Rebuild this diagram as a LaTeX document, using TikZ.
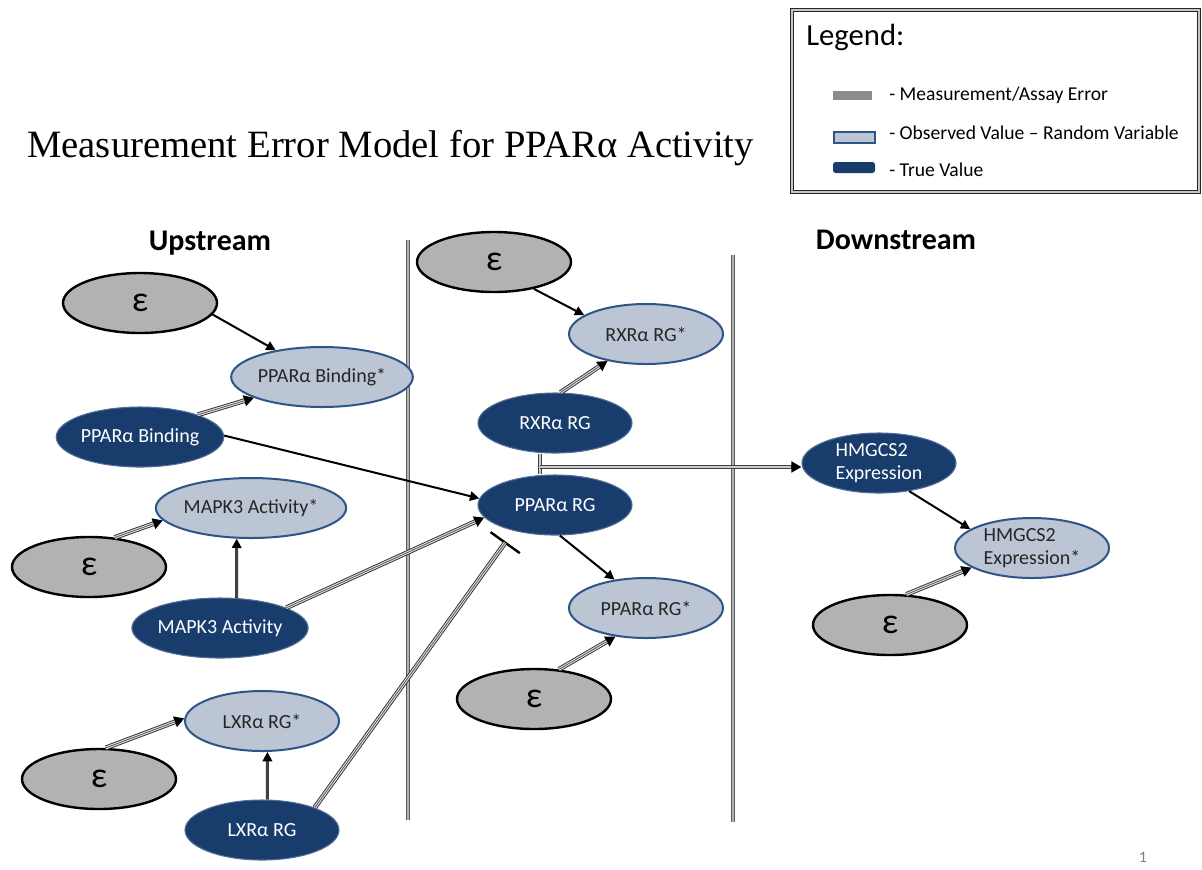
\documentclass[tikz,border=0pt]{standalone}
\usepackage{fontspec}
\setmainfont{Carlito}
\newfontfamily\titlefont{Liberation Serif}
\usetikzlibrary{arrows.meta,shapes.geometric}
\definecolor{truefill}{RGB}{24,60,108}
\definecolor{truedraw}{RGB}{80,110,150}
\definecolor{obsfill}{RGB}{187,197,212}
\definecolor{obsdraw}{RGB}{45,85,135}
\definecolor{errfill}{RGB}{178,178,178}
\definecolor{legerr}{RGB}{140,140,140}
\definecolor{sepline}{RGB}{90,90,90}
\tikzset{
 ell/.style={ellipse, minimum width=115.5pt, minimum height=45pt, inner sep=0pt, font=\fontsize{15}{17.5}\selectfont},
 err/.style={ell, fill=errfill, draw=black, line width=1.8pt, font=\fontsize{27}{30}\selectfont},
 obs/.style={ell, fill=obsfill, draw=obsdraw, line width=1.5pt, text=black!85},
 tru/.style={ell, fill=truefill, draw=truedraw, line width=0.8pt, text=white},
 lbl/.style={inner sep=0pt},
 sarrow/.style={draw=black, line width=1.5pt, -{Triangle[length=7pt,width=7pt]}},
 varrow/.style={draw=black!75, line width=2.2pt, -{Triangle[length=7pt,width=7pt,color=black]}},
 tri/.style={draw=black!80, line width=3.6pt, -{Triangle[length=7.5pt,width=8pt,color=black]},
   postaction={draw=gray!30, line width=2.2pt, -, shorten >=7.5pt},
   postaction={draw=black!70, line width=0.5pt, -, shorten >=7.5pt}},
 inh/.style={draw=black!80, line width=3.6pt, shorten >=10pt, -{Bar[width=27pt,line width=1.8pt,color=black]},
   postaction={draw=gray!30, line width=2.2pt, -, shorten >=11pt},
   postaction={draw=black!70, line width=0.5pt, -, shorten >=11pt}},
 dblline/.style={draw=black!75, line width=2.8pt, postaction={draw=gray!40, line width=1.1pt}},
 dblarrow/.style={draw=black!75, line width=2.8pt, -{Triangle[length=7.5pt,width=8pt,color=black]},
   postaction={draw=gray!40, line width=1.1pt, -, shorten >=7.5pt}},
 sep/.style={draw=sepline, line width=3pt, postaction={draw=gray!60, line width=0.9pt}},
}
\begin{document}
\begin{tikzpicture}[x=0.75pt,y=-0.75pt]
\useasboundingbox (0,0) rectangle (1202,869);
\fill[white] (0,0) rectangle (1202,869);

% title
\node[lbl, anchor=base west, font=\titlefont\fontsize{29}{34}\selectfont] (title) at (27,157) {Measurement Error Model for PPARα Activity};

% legend
\draw[draw=gray!30!black, line width=0.8pt, double=gray!45, double distance=1.2pt] (792,10) rectangle (1199,192);
\node[lbl, anchor=west, font=\fontsize{23}{27}\selectfont] (legt) at (806,37) {Legend:};
\fill[legerr] (833,91) rectangle (872,100);
\draw[fill=obsfill, draw=obsdraw, line width=1.2pt] (834,132) rectangle (875,143);
\fill[truefill, rounded corners=2pt] (833,162) rectangle (875,173);
\node[lbl, anchor=west, font=\fontsize{14.7}{17}\selectfont] (leg1) at (889,95) {- Measurement/Assay Error};
\node[lbl, anchor=west, font=\fontsize{14.7}{17}\selectfont] (leg2) at (889,133) {- Observed Value – Random Variable};
\node[lbl, anchor=west, font=\fontsize{14.7}{17}\selectfont] (leg3) at (889,170) {- True Value};

% section labels
\node[lbl, font=\bfseries\fontsize{22.5}{26}\selectfont] (up) at (210,243) {Upstream};
\node[lbl, font=\bfseries\fontsize{22.5}{26}\selectfont] (down) at (896,240) {Downstream};

% separators
\coordinate (s1a) at (408,240); \coordinate (s1b) at (408,820);
\coordinate (s2a) at (733,255); \coordinate (s2b) at (733,822);
\draw[sep] (s1a) -- (s1b);
\draw[sep] (s2a) -- (s2b);

% nodes
\node[err] (e1) at (140,303) {ε};
\node[obs] (bs) at (322,377) {PPARα Binding*};
\node[tru] (b) at (140,437) {PPARα Binding};
\node[obs] (ms) at (251,508) {MAPK3 Activity*};
\node[err] (e2) at (89,567) {ε};
\node[tru] (m) at (220,628) {MAPK3 Activity};
\node[obs] (ls) at (262,721) {LXRα RG*};
\node[err] (e3) at (99,779) {ε};
\node[tru] (l) at (262,830) {LXRα RG};
\node[err] (e4) at (494,262) {ε};
\node[obs] (rs) at (646,334) {RXRα RG*};
\node[tru] (r) at (555,423) {RXRα RG};
\node[tru] (p) at (555,505) {PPARα RG};
\node[obs] (ps) at (646,608) {PPARα RG*};
\node[err] (e5) at (534,699) {ε};
\node[tru, align=left] (h) at (879,463) {HMGCS2\\Expression};
\node[obs, align=left] (hs) at (1032,548) {HMGCS2\\Expression*};
\node[err] (e6) at (890,625) {ε};

% connectors
\draw[sarrow] (e1.-9) -- (bs.150);
\draw[tri] (b.21) -- (bs.197);
\draw[sarrow] (b.1) -- (p.175);
\draw[tri] (e2.49) -- (ms.188);
\draw[varrow] (m.61) -- (ms.-115);
\draw[tri] (m.17) -- (p.190);
\draw[tri] (e3.78) -- (ls.178);
\draw[varrow] (l.80) -- (ls.-80);
\draw[inh] (l.23) -- (p.212);
\draw[sarrow] (e4.-34) -- (rs.163);
\draw[tri] (r.80) -- (rs.215);
\draw[sarrow] (p.-81) -- (ps.138);
\draw[tri] (e5.50) -- (ps.223);
\coordinate (tj) at (540,467);
\draw[dblline] (tj |- r.south) -- (tj |- p.north);
\draw[dblarrow] (tj) -- (tj -| h.west);
\draw[sarrow] (h.-43) -- (hs.163);
\draw[tri] (e6.62) -- (hs.198);

% page number
\node[lbl, text=gray, font=\fontsize{12}{14}\selectfont] (pg) at (1143,857) {1};
\end{tikzpicture}
\end{document}
